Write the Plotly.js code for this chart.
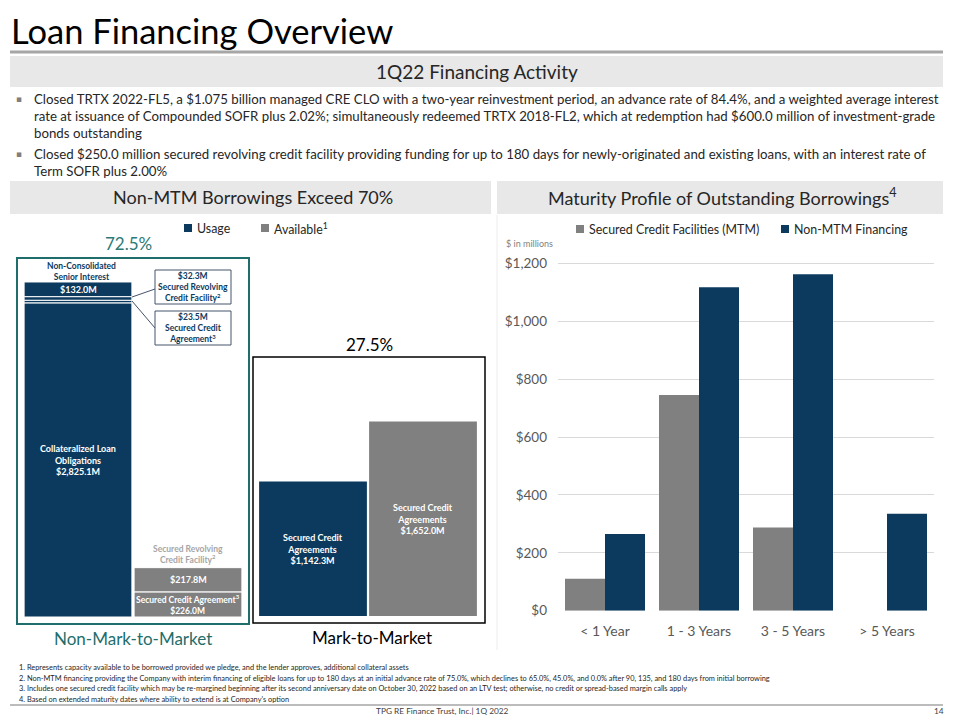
<!DOCTYPE html>
<html>
<head>
<meta charset="utf-8">
<script src="https://cdn.plot.ly/plotly-3.0.1.min.js"></script>
<style>html,body{margin:0;padding:0;background:#fff;overflow:hidden;width:960px;height:720px;}#chart{width:960px;height:720px;overflow:hidden;}</style>
</head>
<body>
<div id="chart"></div>
<script>
// ---------------- DATA ----------------
const nonMtmUsageLabels = ['Collateralized Loan<br>Obligations', 'Secured Credit<br>Agreement<sup>3</sup>', 'Secured Revolving<br>Credit Facility<sup>2</sup>', 'Non-Consolidated<br>Senior Interest'];
const nonMtmUsage = [2825.1, 23.5, 32.3, 132.0];
const nonMtmAvailLabels = ['Secured Credit Agreement<sup>3</sup>', 'Secured Revolving<br>Credit Facility<sup>2</sup>'];
const nonMtmAvail = [226.0, 217.8];
const mtmUsageLabels = ['Secured Credit<br>Agreements'];
const mtmUsage = [1142.3];
const mtmAvailLabels = ['Secured Credit<br>Agreements'];
const mtmAvail = [1652.0];
const groupLabels = ['Non-Mark-to-Market', 'Mark-to-Market'];
const leftLegend = ['Usage', 'Available<sup>1</sup>'];

const maturityBuckets = ['< 1 Year', '1 - 3 Years', '3 - 5 Years', '> 5 Years'];
const maturitySeries = ['Secured Credit Facilities (MTM)', 'Non-MTM Financing'];
const mtmFacilities = [110, 745, 287, 0];
const nonMtmFinancing = [265, 1117, 1162, 335];
const maturityTicks = [0, 200, 400, 600, 800, 1000, 1200];

const bulletLines = [
  'Closed TRTX 2022-FL5, a $1.075 billion managed CRE CLO with a two-year reinvestment period, an advance rate of 84.4%, and a weighted average interest',
  'rate at issuance of Compounded SOFR plus 2.02%; simultaneously redeemed TRTX 2018-FL2, which at redemption had $600.0 million of investment-grade',
  'bonds outstanding',
  'Closed $250.0 million secured revolving credit facility providing funding for up to 180 days for newly-originated and existing loans, with an interest rate of',
  'Term SOFR plus 2.00%'
];
const footnotes = [
  '1. Represents capacity available to be borrowed provided we pledge, and the lender approves, additional collateral assets',
  '2. Non-MTM financing providing the Company with interim financing of eligible loans for up to 180 days at an initial advance rate of 75.0%, which declines to 65.0%, 45.0%, and 0.0% after 90, 135, and 180 days from initial borrowing',
  '3. Includes one secured credit facility which may be re-margined beginning after its second anniversary date on October 30, 2022 based on an LTV test; otherwise, no credit or spread-based margin calls apply',
  "4. Based on extended maturity dates where ability to extend is at Company's option"
];

// ---------------- STYLE ----------------
const W = 960, H = 720;
const X = p => p / W;
const Y = p => 1 - p / H;
const FONT = 'Lato, Carlito, "Open Sans", sans-serif';
const NAVY = '#0c3a5e';
const GRAY = '#808080';
const TEAL = '#1f6e6b';
const fmtM = v => '$' + v.toLocaleString('en-US', {minimumFractionDigits: 1, maximumFractionDigits: 1}) + 'M';
const fmtD = v => '$' + v.toLocaleString('en-US');
const sum = a => a.reduce((s, v) => s + v, 0);

const traces = [];
// Non-MTM usage stack
let cum = 0;
nonMtmUsage.forEach((v, i) => {
  traces.push({type: 'bar', x: [0], y: [v], base: [cum], width: 0.98, xaxis: 'x', yaxis: 'y',
    marker: {color: NAVY, line: {color: '#ffffff', width: 1}}, name: leftLegend[0], showlegend: false, hoverinfo: 'skip'});
  cum += v;
});
// Non-MTM available stack
let cumA = 0;
nonMtmAvail.forEach((v, i) => {
  traces.push({type: 'bar', x: [1], y: [v], base: [cumA], width: 0.98, xaxis: 'x', yaxis: 'y',
    marker: {color: GRAY, line: {color: '#ffffff', width: 1}}, name: leftLegend[1], showlegend: false, hoverinfo: 'skip'});
  cumA += v;
});
// MTM
traces.push({type: 'bar', x: [0], y: mtmUsage, base: [0], width: 0.98, xaxis: 'x2', yaxis: 'y2',
  marker: {color: NAVY}, name: leftLegend[0], showlegend: false, hoverinfo: 'skip'});
traces.push({type: 'bar', x: [1], y: mtmAvail, base: [0], width: 0.98, xaxis: 'x2', yaxis: 'y2',
  marker: {color: GRAY}, name: leftLegend[1], showlegend: false, hoverinfo: 'skip'});
// Maturity profile
traces.push({type: 'bar', x: maturityBuckets, y: mtmFacilities, width: 0.4255, offset: -0.4255,
  xaxis: 'x3', yaxis: 'y3', marker: {color: GRAY}, name: maturitySeries[0], showlegend: false, hoverinfo: 'skip'});
traces.push({type: 'bar', x: maturityBuckets, y: nonMtmFinancing, width: 0.4255, offset: 0,
  xaxis: 'x3', yaxis: 'y3', marker: {color: NAVY}, name: maturitySeries[1], showlegend: false, hoverinfo: 'skip'});

const totalNonMtm = sum(nonMtmUsage);
const totalMtm = sum(mtmUsage);
const pctNon = (100 * totalNonMtm / (totalNonMtm + totalMtm)).toFixed(1) + '%';
const pctMtm = (100 * totalMtm / (totalNonMtm + totalMtm)).toFixed(1) + '%';

const ann = [];
const A = (o) => ann.push(Object.assign({showarrow: false, xanchor: 'center', yanchor: 'middle', font: {family: FONT, size: 12, color: '#262626'}}, o));
const P = {xref: 'paper', yref: 'paper'};

// Title & headers
A(Object.assign({x: X(9), y: Y(31), xanchor: 'left', text: 'Loan Financing Overview', font: {family: FONT, size: 34.5, color: '#000'}}, P));
A(Object.assign({x: X(477), y: Y(72), text: '1Q22 Financing Activity', font: {family: FONT, size: 19, color: '#262626'}}, P));
A(Object.assign({x: X(253), y: Y(197), text: 'Non-MTM Borrowings Exceed 70%', font: {family: FONT, size: 18, color: '#262626'}}, P));
A(Object.assign({x: X(722), y: Y(197), text: 'Maturity Profile of Outstanding Borrowings<sup>4</sup>', font: {family: FONT, size: 18, color: '#262626'}}, P));

// Bullets
const bulletY = [99, 116, 133, 154, 171];
bulletLines.forEach((t, i) => {
  A(Object.assign({x: X(32), y: Y(bulletY[i]), xanchor: 'left', text: t, font: {family: FONT, size: 13.25, color: '#262626'}}, P));
});
[0, 3].forEach(i => A(Object.assign({x: X(19), y: Y(bulletY[i]), text: '▪', font: {family: 'DejaVu Sans', size: 9, color: '#7f7f7f'}}, P)));

// Legends (drawn as swatches + text)
const legendItems = [
  {sx: 184, sy: 228, color: NAVY, text: leftLegend[0]},
  {sx: 261, sy: 228, color: GRAY, text: leftLegend[1]},
  {sx: 576, sy: 229, color: GRAY, text: maturitySeries[0]},
  {sx: 781, sy: 229, color: NAVY, text: maturitySeries[1]}
];
const legendShapes = legendItems.map(it => ({type: 'rect', xref: 'paper', yref: 'paper', x0: X(it.sx), x1: X(it.sx + 8),
  y0: Y(it.sy + 4), y1: Y(it.sy - 4), fillcolor: it.color, line: {width: 0}}));
legendItems.forEach(it => A(Object.assign({x: X(it.sx + 11), y: Y(it.sy), xanchor: 'left', text: it.text,
  font: {family: FONT, size: 12.4, color: '#262626'}}, P)));

// Left chart labels
const bw = '#ffffff';
A({xref: 'x', yref: 'y', x: 0, y: nonMtmUsage[0] / 2, text: '<b>' + nonMtmUsageLabels[0] + '<br>' + fmtM(nonMtmUsage[0]) + '</b>', font: {family: FONT, size: 9, color: bw}});
A({xref: 'x', yref: 'y', x: 0, y: totalNonMtm - nonMtmUsage[3] / 2, text: '<b>' + fmtM(nonMtmUsage[3]) + '</b>', font: {family: FONT, size: 9, color: bw}});
A({xref: 'x', yref: 'y', x: 0.03, y: totalNonMtm, yanchor: 'bottom', yshift: -2, text: '<b>' + nonMtmUsageLabels[3] + '</b>', font: {family: FONT, size: 8.5, color: NAVY}});
A({xref: 'x', yref: 'y', x: 1, y: nonMtmAvail[0] / 2, text: '<b>' + nonMtmAvailLabels[0] + '<br>' + fmtM(nonMtmAvail[0]) + '</b>', font: {family: FONT, size: 8.5, color: bw}});
A({xref: 'x', yref: 'y', x: 1, y: nonMtmAvail[0] + nonMtmAvail[1] / 2, text: '<b>' + fmtM(nonMtmAvail[1]) + '</b>', font: {family: FONT, size: 9, color: bw}});
A({xref: 'x', yref: 'y', x: 1, y: sum(nonMtmAvail), yanchor: 'bottom', yshift: 1, text: '<b>' + nonMtmAvailLabels[1] + '</b>', font: {family: FONT, size: 8.5, color: '#a6a6a6'}});
// callouts
A(Object.assign({x: X(193), y: Y(287), text: '<b>' + fmtM(nonMtmUsage[2]) + '<br>' + nonMtmUsageLabels[2] + '</b>', font: {family: FONT, size: 8.5, color: NAVY}}, P));
A(Object.assign({x: X(193), y: Y(328), text: '<b>' + fmtM(nonMtmUsage[1]) + '<br>' + nonMtmUsageLabels[1] + '</b>', font: {family: FONT, size: 8.5, color: NAVY}}, P));
// MTM labels
A({xref: 'x2', yref: 'y2', x: 0, y: mtmUsage[0] / 2, text: '<b>' + mtmUsageLabels[0] + '<br>' + fmtM(mtmUsage[0]) + '</b>', font: {family: FONT, size: 9, color: bw}});
A({xref: 'x2', yref: 'y2', x: 1, y: mtmAvail[0] / 2, text: '<b>' + mtmAvailLabels[0] + '<br>' + fmtM(mtmAvail[0]) + '</b>', font: {family: FONT, size: 9, color: bw}});
// percentages & group labels
A(Object.assign({x: X(128), y: Y(243), text: pctNon, font: {family: FONT, size: 17, color: '#2b7a78'}}, P));
A(Object.assign({x: X(369), y: Y(344), text: pctMtm, font: {family: FONT, size: 17, color: '#000'}}, P));
A(Object.assign({x: X(133), y: Y(638), text: groupLabels[0], font: {family: FONT, size: 17, color: TEAL}}, P));
A(Object.assign({x: X(372), y: Y(637), text: groupLabels[1], font: {family: FONT, size: 17, color: '#000'}}, P));
// right chart unit
A(Object.assign({x: X(504), y: Y(243), xanchor: 'left', text: '$ in millions', font: {family: FONT, size: 9, color: '#7f7f7f'}}, P));

// Footnotes
const fnY = [667, 678, 688, 699];
footnotes.forEach((t, i) => A(Object.assign({x: X(17), y: Y(fnY[i]), xanchor: 'left', text: t, font: {family: FONT, size: 7.4, color: '#262626'}}, P)));
A(Object.assign({x: X(442), y: Y(711), text: 'TPG RE Finance Trust, Inc.| 1Q 2022', font: {family: FONT, size: 8.3, color: '#404040'}}, P));
A(Object.assign({x: X(939), y: Y(711), text: '14', font: {family: FONT, size: 8.3, color: '#404040'}}, P));

const shapes = [
  {type: 'line', xref: 'paper', yref: 'paper', x0: X(10), x1: X(943), y0: Y(52), y1: Y(52), line: {color: '#a6a6a6', width: 3}},
  {type: 'rect', xref: 'paper', yref: 'paper', x0: X(10), x1: X(943), y0: Y(87), y1: Y(56), fillcolor: '#e8e8e8', line: {width: 0}, layer: 'below'},
  {type: 'rect', xref: 'paper', yref: 'paper', x0: X(10), x1: X(491), y0: Y(214), y1: Y(181), fillcolor: '#e8e8e8', line: {width: 0}, layer: 'below'},
  {type: 'rect', xref: 'paper', yref: 'paper', x0: X(497), x1: X(943), y0: Y(214), y1: Y(181), fillcolor: '#e8e8e8', line: {width: 0}, layer: 'below'},
  {type: 'rect', xref: 'paper', yref: 'paper', x0: X(17), x1: X(249), y0: Y(624), y1: Y(258), line: {color: TEAL, width: 2}},
  {type: 'rect', xref: 'paper', yref: 'paper', x0: X(253), x1: X(485), y0: Y(623), y1: Y(357), line: {color: '#000', width: 1.5}},
  {type: 'rect', xref: 'paper', yref: 'paper', x0: X(155), x1: X(231), y0: Y(304), y1: Y(270), line: {color: '#44546a', width: 1}},
  {type: 'rect', xref: 'paper', yref: 'paper', x0: X(155), x1: X(231), y0: Y(345), y1: Y(311), line: {color: '#44546a', width: 1}},
  {type: 'line', xref: 'paper', yref: 'paper', x0: X(132), x1: X(155), y0: Y(297), y1: Y(289), line: {color: '#44546a', width: 1}},
  {type: 'line', xref: 'paper', yref: 'paper', x0: X(132), x1: X(155), y0: Y(301), y1: Y(328), line: {color: '#44546a', width: 1}},
  {type: 'line', xref: 'paper', yref: 'paper', x0: X(497), x1: X(497), y0: Y(215), y1: Y(650), line: {color: '#ececec', width: 1}},
  {type: 'line', xref: 'paper', yref: 'paper', x0: X(10), x1: X(943), y0: Y(705), y1: Y(705), line: {color: '#a6a6a6', width: 1.5}}
].concat(legendShapes);

const hidden = {visible: false, fixedrange: true};
const layout = {
  width: W, height: H, autosize: false,
  margin: {l: 0, r: 0, t: 0, b: 0, autoexpand: false},
  paper_bgcolor: '#ffffff', plot_bgcolor: 'rgba(0,0,0,0)',
  barmode: 'overlay', showlegend: false,
  font: {family: FONT},
  xaxis: Object.assign({domain: [X(23), X(243)], range: [-0.5, 1.5], anchor: 'y'}, hidden),
  yaxis: Object.assign({domain: [Y(617), Y(258)], range: [0, (617 - 258) / 0.1112], anchor: 'x'}, hidden),
  xaxis2: Object.assign({domain: [X(258), X(478)], range: [-0.5, 1.5], anchor: 'y2'}, hidden),
  yaxis2: Object.assign({domain: [Y(616), Y(357)], range: [0, (616 - 357) / 0.1178], anchor: 'x2'}, hidden),
  xaxis3: {domain: [X(558), X(934)], anchor: 'y3', type: 'category', categoryorder: 'array', categoryarray: maturityBuckets,
    range: [-0.5, 3.5], showgrid: false, zeroline: false, showline: false, ticks: '', automargin: false,
    tickfont: {family: FONT, size: 14, color: '#595959'}, ticklabelstandoff: 10, fixedrange: true},
  yaxis3: {domain: [Y(610.7), Y(250)], anchor: 'x3', range: [0, (610.7 - 250) / 0.2895], tickmode: 'array',
    tickvals: maturityTicks, ticktext: maturityTicks.map(fmtD), automargin: false,
    showgrid: true, gridcolor: '#d9d9d9', gridwidth: 1, zeroline: false, showline: false,
    ticks: '', tickfont: {family: FONT, size: 13.5, color: '#595959'}, ticklabelstandoff: 10, fixedrange: true},
  shapes: shapes,
  annotations: ann
};

Plotly.newPlot('chart', traces, layout, {staticPlot: true, displayModeBar: false});
</script>
</body>
</html>
